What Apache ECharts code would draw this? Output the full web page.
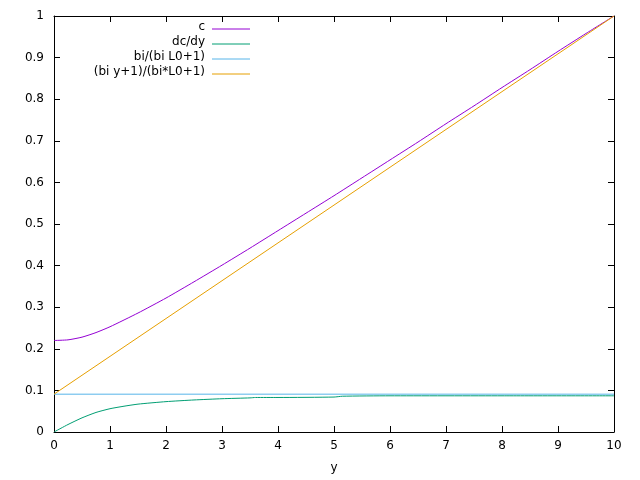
<!DOCTYPE html>
<html><head><meta charset="utf-8">
<script src="https://cdn.jsdelivr.net/npm/echarts@6/dist/echarts.min.js"></script>
<style>html,body{margin:0;padding:0;background:#fff}#c{width:640px;height:480px}</style>
</head><body><div id="c"></div>
<script>
const cY = [0,0.25,0.5,0.75,1,1.5,2,2.5,3,3.5,4,4.5,5,5.5,6,6.5,7,7.5,8,8.5,9,9.5,10];
const cV = [0.22,0.2215,0.228,0.239,0.253,0.286,0.322,0.361,0.401,0.442,0.484,0.526,0.568,0.611,0.654,0.697,0.741,0.784,0.828,0.871,0.915,0.958,1.0];
const dY = [0,0.25,0.5,0.75,1,1.25,1.5,2,2.5,3,3.5,3.6,4,5,5.15,6,8,10];
const dV = [0,0.018,0.034,0.047,0.056,0.062,0.067,0.073,0.077,0.080,0.082,0.083,0.083,0.084,0.086,0.087,0.087,0.087];
const bY = [0,10];
const bV = [0.0909,0.0909];
const oY = [0,10];
const oV = [0.0909,1.0];
const names = ['c','dc/dy','bi/(bi L0+1)','(bi y+1)/(bi*L0+1)'];
const colors = ['#9400d3','#009e73','#56b4e9','#e69f00'];
const zip = (a,b)=>a.map((v,i)=>[v,b[i]]);
const font = 'DejaVu Sans';
const axisCommon = {axisLine:{show:true,onZero:false,lineStyle:{color:'#000'}},axisTick:{inside:true,length:6,lineStyle:{color:'#000'}},splitLine:{show:false}};
const chart = echarts.init(document.getElementById('c'));
const rows=[29,44,59,74];
const graphic=[];
names.forEach((n,i)=>{
  graphic.push({type:'text',right:640-205,top:rows[i]-8,style:{text:n,font:'12px '+font,fill:'#000'}});
  graphic.push({type:'line',shape:{x1:212,y1:rows[i],x2:250,y2:rows[i]},style:{stroke:colors[i],lineWidth:1}});
});
chart.setOption({
  animation:false,
  grid:{left:54,right:26,top:16,bottom:48},
  graphic,
  xAxis:[
    Object.assign({type:'value',min:0,max:10,interval:1,name:'y',nameLocation:'middle',nameGap:30,
      nameTextStyle:{color:'#000',fontFamily:font,fontSize:12},
      axisLabel:{color:'#000',fontFamily:font,fontSize:12,margin:8}},axisCommon),
    Object.assign({type:'value',min:0,max:10,interval:1,position:'top',axisLabel:{show:false}},axisCommon)
  ],
  yAxis:[
    Object.assign({type:'value',min:0,max:1,interval:0.1,
      axisLabel:{color:'#000',fontFamily:font,fontSize:12,margin:10,formatter:v=>String(Math.round(v*10)/10)}},axisCommon),
    Object.assign({type:'value',min:0,max:1,interval:0.1,position:'right',axisLabel:{show:false}},axisCommon)
  ],
  series:[
    {name:names[0],type:'line',data:zip(cY,cV),smooth:0.2},
    {name:names[1],type:'line',data:zip(dY,dV),smooth:0.2},
    {name:names[2],type:'line',data:zip(bY,bV)},
    {name:names[3],type:'line',data:zip(oY,oV)}
  ].map((s,i)=>Object.assign(s,{showSymbol:false,symbol:'none',lineStyle:{color:colors[i],width:1},itemStyle:{color:colors[i]}}))
});
</script></body></html>
